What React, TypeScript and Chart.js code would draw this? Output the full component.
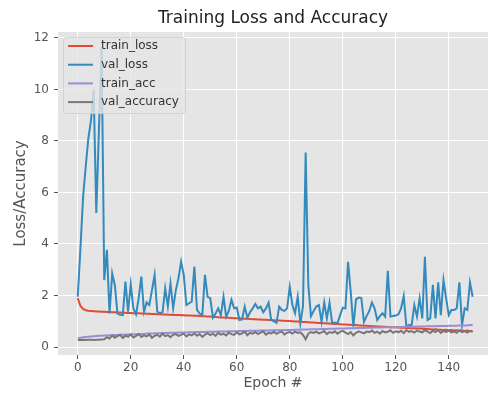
import React, { useEffect, useRef } from "react";
import { Chart, registerables } from "chart.js";

Chart.register(...registerables);

const epochs = Array.from({ length: 150 }, (_, i) => i);

const trainLoss = [
  1.9, 1.6, 1.48, 1.43, 1.41, 1.4, 1.39, 1.38, 1.38, 1.37,
  1.37, 1.36, 1.36, 1.35, 1.35, 1.34, 1.34, 1.33, 1.33, 1.32,
  1.32, 1.31, 1.31, 1.31, 1.3, 1.3, 1.29, 1.29, 1.28, 1.28,
  1.27, 1.27, 1.26, 1.26, 1.25, 1.25, 1.24, 1.24, 1.24, 1.23,
  1.23, 1.22, 1.22, 1.22, 1.21, 1.21, 1.2, 1.19, 1.19, 1.18,
  1.18, 1.17, 1.17, 1.16, 1.15, 1.15, 1.14, 1.14, 1.13, 1.12,
  1.12, 1.11, 1.11, 1.1, 1.1, 1.09, 1.08, 1.08, 1.07, 1.07,
  1.06, 1.06, 1.05, 1.05, 1.04, 1.03, 1.03, 1.02, 1.02, 1.01,
  1.01, 1.0, 0.99, 0.99, 0.98, 0.97, 0.97, 0.96, 0.95, 0.95,
  0.94, 0.93, 0.93, 0.92, 0.91, 0.91, 0.9, 0.89, 0.89, 0.88,
  0.87, 0.87, 0.86, 0.86, 0.85, 0.85, 0.84, 0.84, 0.83, 0.83,
  0.82, 0.81, 0.81, 0.8, 0.8, 0.79, 0.79, 0.78, 0.77, 0.77,
  0.76, 0.76, 0.75, 0.75, 0.74, 0.74, 0.73, 0.73, 0.72, 0.72,
  0.71, 0.7, 0.7, 0.69, 0.68, 0.69, 0.67, 0.67, 0.66, 0.67,
  0.65, 0.66, 0.64, 0.65, 0.63, 0.64, 0.62, 0.64, 0.61, 0.62,
];

const valLoss = [
  1.95, 3.8, 5.8, 7.0, 8.1, 8.8, 10.0, 5.2, 8.45, 11.66,
  2.6, 3.77, 1.3, 2.86, 2.4, 1.3, 1.25, 1.24, 2.54, 1.37,
  2.43, 1.5, 1.27, 1.9, 2.73, 1.37, 1.73, 1.63, 2.2, 2.8,
  1.37, 1.31, 1.35, 2.28, 1.57, 2.47, 1.5, 2.2, 2.67, 3.31,
  2.8, 1.63, 1.7, 1.76, 3.12, 1.44, 1.3, 1.24, 2.8, 1.95,
  1.9, 1.14, 1.3, 1.5, 1.24, 1.95, 1.18, 1.4, 1.83, 1.5,
  1.53, 1.05, 1.07, 1.57, 1.14, 1.35, 1.5, 1.67, 1.5, 1.57,
  1.35, 1.5, 1.72, 1.05, 1.0, 0.94, 1.57, 1.44, 1.4, 1.5,
  2.34, 1.63, 1.31, 1.95, 0.92, 1.6, 7.55, 2.4, 1.2, 1.4,
  1.57, 1.63, 0.98, 1.73, 1.11, 1.72, 0.92, 0.95, 0.92, 1.24,
  1.53, 1.5, 3.31, 2.15, 0.79, 1.85, 1.92, 1.9, 0.98, 1.2,
  1.4, 1.73, 1.5, 1.05, 1.2, 1.31, 1.18, 2.96, 1.18, 1.2,
  1.22, 1.27, 1.5, 1.98, 0.79, 0.85, 0.85, 1.63, 1.18, 1.89,
  1.11, 3.5, 1.05, 1.11, 2.41, 1.11, 2.51, 1.24, 2.6, 1.89,
  1.24, 1.44, 1.44, 1.5, 2.51, 0.85, 1.5, 1.44, 2.51, 1.95,
];

const trainAcc = [
  0.34, 0.36, 0.38, 0.39, 0.4, 0.41, 0.42, 0.43, 0.44, 0.44,
  0.45, 0.45, 0.46, 0.46, 0.47, 0.47, 0.48, 0.48, 0.49, 0.49,
  0.5, 0.5, 0.5, 0.51, 0.51, 0.51, 0.52, 0.52, 0.52, 0.53,
  0.53, 0.53, 0.54, 0.54, 0.54, 0.55, 0.55, 0.55, 0.56, 0.56,
  0.56, 0.56, 0.57, 0.57, 0.57, 0.58, 0.58, 0.58, 0.58, 0.59,
  0.59, 0.59, 0.59, 0.6, 0.6, 0.6, 0.6, 0.61, 0.61, 0.61,
  0.61, 0.62, 0.62, 0.62, 0.62, 0.63, 0.63, 0.63, 0.63, 0.64,
  0.64, 0.64, 0.64, 0.64, 0.65, 0.65, 0.65, 0.65, 0.66, 0.66,
  0.66, 0.66, 0.67, 0.67, 0.67, 0.68, 0.68, 0.68, 0.69, 0.69,
  0.69, 0.69, 0.7, 0.7, 0.7, 0.71, 0.71, 0.71, 0.72, 0.72,
  0.72, 0.72, 0.73, 0.73, 0.73, 0.74, 0.74, 0.74, 0.74, 0.75,
  0.75, 0.75, 0.76, 0.76, 0.76, 0.76, 0.77, 0.77, 0.77, 0.77,
  0.78, 0.78, 0.78, 0.78, 0.79, 0.79, 0.79, 0.79, 0.8, 0.8,
  0.8, 0.8, 0.81, 0.81, 0.81, 0.81, 0.82, 0.82, 0.82, 0.82,
  0.83, 0.83, 0.83, 0.83, 0.84, 0.84, 0.84, 0.84, 0.85, 0.85,
];

const valAcc = [
  0.27, 0.27, 0.28, 0.27, 0.28, 0.28, 0.27, 0.28, 0.28, 0.29,
  0.3, 0.38, 0.33, 0.45, 0.36, 0.42, 0.47, 0.35, 0.44, 0.4,
  0.48, 0.37, 0.43, 0.5, 0.39, 0.45, 0.41, 0.49, 0.36, 0.44,
  0.47, 0.4, 0.52, 0.42, 0.46, 0.38, 0.48, 0.5, 0.43, 0.47,
  0.52, 0.41, 0.49, 0.45, 0.53, 0.44, 0.5, 0.39, 0.48, 0.54,
  0.46, 0.52, 0.43, 0.55, 0.48, 0.51, 0.45, 0.56, 0.5, 0.47,
  0.57, 0.49, 0.53, 0.6, 0.46, 0.55, 0.52, 0.58, 0.5, 0.56,
  0.61, 0.48, 0.55, 0.53, 0.59, 0.51, 0.57, 0.6, 0.49, 0.56,
  0.58, 0.52, 0.6, 0.55, 0.57, 0.47, 0.3, 0.52, 0.58, 0.55,
  0.6, 0.53, 0.57, 0.62, 0.5, 0.58, 0.55, 0.61, 0.52, 0.59,
  0.63, 0.56, 0.5, 0.58, 0.45, 0.55, 0.61, 0.57, 0.53, 0.6,
  0.58, 0.64, 0.55, 0.6, 0.52, 0.62, 0.57, 0.59, 0.65, 0.55,
  0.61, 0.58, 0.63, 0.54, 0.66, 0.59, 0.62, 0.56, 0.64, 0.6,
  0.57, 0.65, 0.6, 0.54, 0.63, 0.58, 0.66, 0.55, 0.62, 0.59,
  0.64, 0.57, 0.61, 0.55, 0.65, 0.58, 0.62, 0.56, 0.63, 0.59,
];

const xTicks = [0, 20, 40, 60, 80, 100, 120, 140];
const yTicks = [0, 2, 4, 6, 8, 10, 12];
const seriesNames = ["train_loss", "val_loss", "train_acc", "val_accuracy"];
const seriesColors = ["#E24A33", "#348ABD", "#988ED5", "#777777"];
const seriesValues = [trainLoss, valLoss, trainAcc, valAcc];

const FONT = "'DejaVu Sans', sans-serif";

const plotBgPlugin = {
  id: "plotBg",
  beforeDraw(chart: any) {
    const { ctx, chartArea } = chart;
    ctx.save();
    ctx.fillStyle = "#E5E5E5";
    ctx.fillRect(chartArea.left, chartArea.top, chartArea.right - chartArea.left, chartArea.bottom - chartArea.top);
    ctx.restore();
  },
};

function roundRectPath(ctx: CanvasRenderingContext2D, x: number, y: number, w: number, h: number, r: number) {
  ctx.beginPath();
  ctx.moveTo(x + r, y);
  ctx.lineTo(x + w - r, y);
  ctx.arcTo(x + w, y, x + w, y + r, r);
  ctx.lineTo(x + w, y + h - r);
  ctx.arcTo(x + w, y + h, x + w - r, y + h, r);
  ctx.lineTo(x + r, y + h);
  ctx.arcTo(x, y + h, x, y + h - r, r);
  ctx.lineTo(x, y + r);
  ctx.arcTo(x, y, x + r, y, r);
  ctx.closePath();
}

const insideLegendPlugin = {
  id: "insideLegend",
  afterDatasetsDraw(chart: any) {
    const { ctx, chartArea } = chart;
    const x = chartArea.left + 5;
    const y = chartArea.top + 5;
    const w = 122;
    const h = 76;
    ctx.save();
    roundRectPath(ctx, x + 0.5, y + 0.5, w, h, 3);
    ctx.fillStyle = "rgba(229,229,229,0.8)";
    ctx.fill();
    ctx.strokeStyle = "rgba(204,204,204,0.8)";
    ctx.lineWidth = 1;
    ctx.stroke();
    chart.data.datasets.forEach((ds: any, i: number) => {
      const cy = y + 9 + i * 18.7;
      ctx.beginPath();
      ctx.moveTo(x + 5, cy);
      ctx.lineTo(x + 30, cy);
      ctx.strokeStyle = ds.borderColor;
      ctx.lineWidth = 2;
      ctx.stroke();
      ctx.fillStyle = "#333333";
      ctx.font = `12px ${FONT}`;
      ctx.textBaseline = "middle";
      ctx.textAlign = "left";
      ctx.fillText(ds.label, x + 38, cy);
    });
    ctx.restore();
  },
};

export default function App() {
  const ref = useRef<HTMLCanvasElement | null>(null);

  useEffect(() => {
    if (!ref.current) return;
    const datasets = seriesNames.map((name, k) => ({
      label: name,
      data: epochs.map((e, i) => ({ x: e, y: seriesValues[k][i] })),
      borderColor: seriesColors[k],
      backgroundColor: seriesColors[k],
      borderWidth: 2,
      pointRadius: 0,
      tension: 0,
      fill: false,
      order: 4 - k,
    }));

    const chart = new Chart(ref.current, {
      type: "line",
      data: { datasets },
      options: {
        responsive: false,
        animation: false,
        devicePixelRatio: 1,
        layout: { padding: 0 },
        plugins: {
          legend: { display: false },
          tooltip: { enabled: false },
          title: {
            display: true,
            text: "Training Loss and Accuracy",
            color: "#222222",
            fullSize: false,
            font: { family: FONT, size: 17, weight: "normal" },
            padding: { top: 8, bottom: 3.6 },
          },
        },
        scales: {
          x: {
            type: "linear",
            min: -7.45,
            max: 154.8,
            afterBuildTicks: (s: any) => {
              s.ticks = xTicks.map((v) => ({ value: v }));
            },
            afterFit: (s: any) => {
              s.height = 39;
            },
            grid: { color: "#FFFFFF", lineWidth: 1, tickColor: "#555555", tickLength: 4, drawTicks: true },
            border: { display: false },
            ticks: { color: "#555555", font: { family: FONT, size: 12 }, padding: 2, maxRotation: 0, autoSkip: false },
            title: {
              display: true,
              text: "Epoch #",
              color: "#555555",
              font: { family: FONT, size: 14 },
              padding: { top: 0, bottom: 2 },
            },
          },
          y: {
            type: "linear",
            min: -0.31,
            max: 12.23,
            afterBuildTicks: (s: any) => {
              s.ticks = yTicks.map((v) => ({ value: v }));
            },
            afterFit: (s: any) => {
              s.width = 58;
            },
            grid: { color: "#FFFFFF", lineWidth: 1, tickColor: "#555555", tickLength: 4, drawTicks: true },
            border: { display: false },
            ticks: { color: "#555555", font: { family: FONT, size: 12 }, padding: 5 },
            title: {
              display: true,
              text: "Loss/Accuracy",
              color: "#555555",
              font: { family: FONT, size: 15 },
              padding: { top: 12, bottom: 0 },
            },
          },
        },
      },
      plugins: [plotBgPlugin, insideLegendPlugin],
    } as any);

    return () => chart.destroy();
  }, []);

  return (
    <div style={{ position: "fixed", left: 0, top: 0, width: 488, height: 394, background: "#FFFFFF", overflow: "hidden" }}>
      <canvas ref={ref} width={488} height={394} style={{ display: "block", width: 488, height: 394 }} />
    </div>
  );
}
